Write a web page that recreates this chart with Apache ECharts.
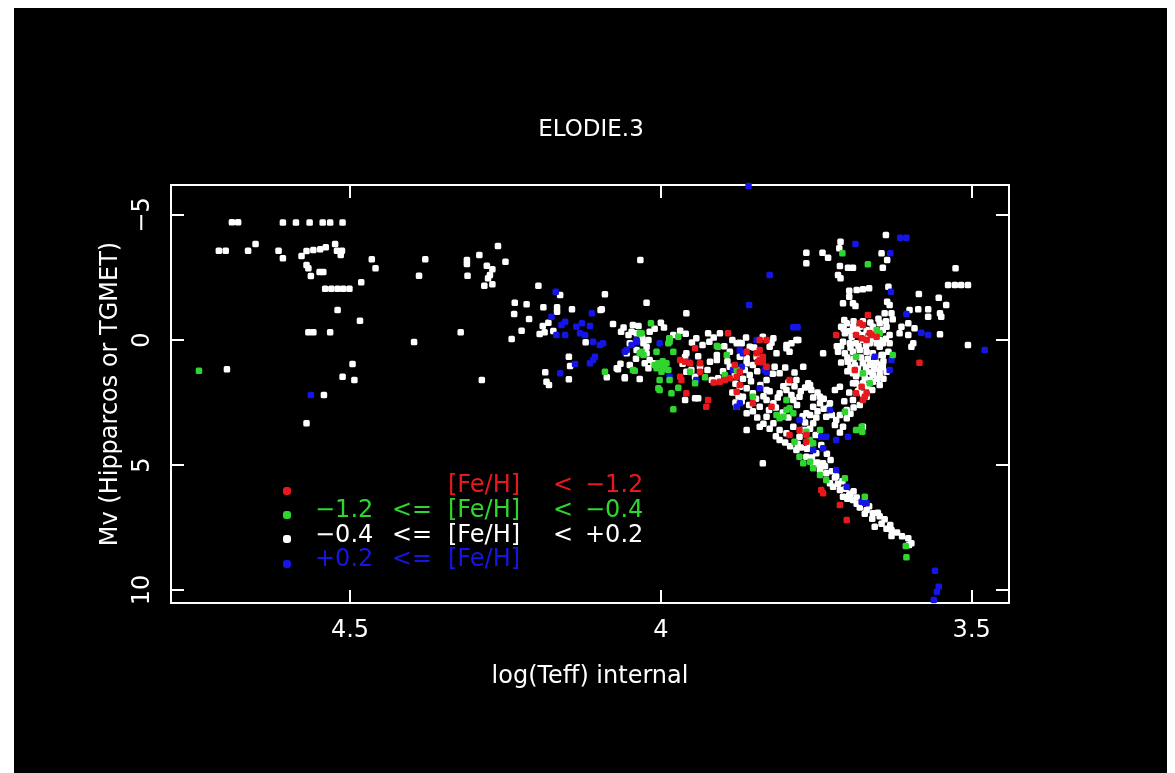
<!DOCTYPE html>
<html>
<head>
<meta charset="utf-8">
<title>ELODIE.3</title>
<script src="https://cdn.jsdelivr.net/npm/echarts@6/dist/echarts.min.js"></script>
<style>
  html, body { margin: 0; padding: 0; background: #ffffff; }
  #panel { position: absolute; left: 14px; top: 8px; width: 1153px; height: 765px; background: #000000; }
  #chart { position: absolute; left: 0; top: 0; width: 1175px; height: 773px; }
</style>
</head>
<body>
<div id="panel"></div>
<div id="chart"></div>
<script>
// [log(Teff), Mv] per star, grouped by metallicity bin
const metalPoor = [ // [Fe/H] < -1.2
  [3.892,-0.27],[3.830,0.00],[3.718,-0.20],[3.945,0.33],[3.969,0.80],[3.961,0.87],[3.953,0.93],[3.937,1.27],
  [3.967,1.60],[3.969,1.47],[3.959,2.13],[3.924,2.40],[3.927,2.67],[3.905,1.67],[3.897,1.60],[3.889,1.53],
  [3.915,1.70],[3.881,1.00],[3.873,1.27],[3.878,1.47],[3.846,0.53],[3.841,0.80],[3.836,0.87],[3.830,1.07],
  [3.862,0.47],[3.793,1.60],[3.852,2.53],[3.793,3.80],[3.766,3.80],[3.822,2.67],[3.739,6.13],[3.742,6.00],
  [3.712,6.60],[3.701,7.20],[3.777,3.60],[3.766,4.07],[3.669,2.13],[3.675,2.40],[3.686,-0.20],[3.677,-0.07],
  [3.664,-0.27],[3.667,-1.00],[3.675,-0.60],[3.661,-0.20],[3.653,-0.13],[3.669,0.00],[3.688,1.20],[3.677,1.87],
  [3.672,2.27],[3.686,2.13],[3.584,0.91],[3.937,0.93],[3.844,0.87],[3.836,0.67],[3.873,1.80],[3.878,2.07],
  [3.841,0.40],[3.680,-0.67],[3.841,0.00]
];
const metalMid = [ // -1.2 <= [Fe/H] < -0.4
  [4.743,1.23],[4.016,-0.67],[4.031,-0.27],[3.986,-0.07],[3.988,0.13],[3.972,-0.13],[4.034,0.53],[4.028,0.60],
  [4.007,0.47],[4.004,0.93],[3.996,1.07],[3.988,1.20],[3.999,1.27],[4.007,1.13],[3.991,0.93],[4.000,1.00],
  [3.994,1.15],[4.010,1.00],[3.997,0.85],[4.042,1.23],[4.090,1.27],[3.980,0.47],[3.986,1.60],[4.004,1.93],
  [4.002,1.60],[3.972,1.91],[3.983,2.13],[3.980,2.77],[3.910,0.24],[3.894,0.60],[3.929,1.49],[3.953,1.27],
  [3.945,1.73],[3.897,1.40],[3.852,2.27],[3.814,3.00],[3.803,3.07],[3.793,2.73],[3.787,2.93],[3.766,3.67],
  [3.760,4.00],[3.744,3.60],[3.777,4.67],[3.771,4.93],[3.755,5.13],[3.760,4.87],[3.734,5.60],[3.744,5.40],
  [3.704,5.53],[3.686,3.60],[3.677,3.47],[3.672,6.27],[3.755,4.13],[3.798,2.80],[3.809,3.13],[3.785,4.07],
  [3.676,3.67],[3.606,8.24],[3.605,8.69],[4.034,-0.27],[3.986,0.07],[4.002,2.00],[3.908,0.27],[3.878,1.20],
  [3.798,2.40],[3.686,0.67],[3.653,-0.40],[3.648,-0.27],[3.675,1.33],[3.664,1.73],[3.627,0.60],[3.704,2.87],
  [3.708,-3.47],[3.667,-3.03],[4.045,1.20],[4.031,0.47]
];
const metalSolar = [ // -0.4 <= [Fe/H] < +0.2
  // hot stars
  [4.698,1.17],[4.711,-3.57],[4.700,-3.57],[4.690,-4.71],[4.680,-4.71],[4.664,-3.57],[4.652,-3.84],[4.615,-3.57],
  [4.608,-3.27],[4.608,-4.70],[4.587,-4.70],[4.565,-4.70],[4.544,-4.70],[4.532,-4.70],[4.512,-4.70],[4.578,-3.36],
  [4.570,-3.56],[4.559,-3.60],[4.548,-3.63],[4.539,-3.71],[4.524,-3.84],[4.521,-3.57],[4.513,-3.57],[4.515,-3.40],
  [4.465,-3.23],[4.459,-2.87],[4.570,-3.00],[4.567,-2.87],[4.563,-2.56],[4.549,-2.72],[4.543,-2.72],[4.540,-2.05],
  [4.530,-2.05],[4.520,-2.05],[4.511,-2.05],[4.501,-2.05],[4.482,-2.31],[4.520,-1.20],[4.484,-0.77],[4.567,-0.31],
  [4.559,-0.31],[4.532,-0.31],[4.496,0.96],[4.512,1.47],[4.493,1.60],[4.542,2.20],[4.570,3.33],
  // B stars
  [4.379,-3.23],[4.389,-2.57],[4.397,0.08],[4.322,-0.31],[4.288,1.60],[4.262,-3.76],[4.292,-3.40],[4.312,-3.20],
  [4.312,-3.04],[4.311,-2.57],[4.280,-2.97],[4.271,-2.83],[4.275,-2.60],[4.278,-2.47],[4.250,-3.13],[4.284,-2.17],
  [4.271,-2.23],[4.197,-2.17],[4.235,-1.49],[4.216,-1.43],[4.189,-1.31],[4.167,-1.31],[4.167,-1.13],[4.236,-1.04],
  [4.212,-0.84],[4.224,-0.37],[4.240,-0.04],[4.190,-0.56],[4.181,-0.69],[4.195,-0.24],[4.187,-0.31],[4.162,-1.80],
  [4.143,-1.23],[4.173,-0.36],[4.121,0.09],[4.148,0.67],[4.146,1.04],[4.186,1.29],[4.184,1.67],[4.148,1.57],
  [4.180,1.80],[4.097,-1.20],[4.090,-1.83],[4.033,-3.20],[4.023,-1.49],[4.095,-1.23],[3.959,-1.07],
  // A stars
  [4.077,-0.64],[4.064,-0.33],[4.045,-0.60],[4.036,-0.56],[4.047,-0.33],[4.039,-0.27],[4.018,-0.33],[4.020,0.00],
  [4.023,0.27],[4.000,-0.69],[3.969,-0.37],[3.986,-0.07],[3.943,-0.07],[3.924,-0.27],[3.922,0.07],[3.905,-0.27],
  [3.874,0.11],[3.836,-0.13],[3.819,-0.07],[3.822,0.11],[3.798,0.20],[3.790,0.13],[3.779,0.00],[3.959,0.53],
  [3.961,0.67],[4.055,0.53],[3.910,0.80],[3.921,0.87],[3.937,1.07],[4.020,1.13],[4.071,1.13],[4.058,1.49],
  [4.034,1.56],[4.087,1.49],[3.951,1.20],[3.945,1.47],[3.959,1.27],[3.889,1.07],[3.881,1.40],[3.918,1.60],
  [3.908,1.53],[3.940,2.33],[3.945,2.33],[3.961,2.40],[4.069,1.17],[4.058,1.53],[4.050,0.13],[4.039,0.40],
  [4.028,0.13],[4.023,0.53],[4.018,0.80],[4.012,0.93],[4.026,0.93],[3.910,0.60],[3.889,0.47],[3.878,0.13],
  [3.873,0.67],[3.862,0.93],[3.846,0.67],[3.870,0.13],[3.857,0.27],[3.862,0.73],[3.852,1.00],[3.825,0.27],
  [3.814,0.53],[3.817,1.07],[3.857,1.40],[3.793,0.47],[3.771,1.07],[3.739,0.53],[3.782,0.00],[3.798,0.33],
  [4.060,-0.50],[4.052,-0.20],[4.030,-0.10],[4.010,-0.45],[3.995,-0.50],[3.980,-0.20],[3.960,-0.25],[3.950,0.10],
  [3.933,0.20],[3.915,-0.10],[3.898,0.25],[3.885,0.00],[3.863,-0.10],[3.850,0.30],[4.040,0.75],[4.050,1.00],
  [4.065,0.95],[3.965,0.95],[3.940,0.65],[3.925,1.20],[3.900,1.25],[3.893,0.85],[3.865,1.20],[3.845,1.25],
  [3.830,1.60],[3.820,1.35],[3.800,1.10],[3.785,1.30],
  // turn-off and main sequence
  [3.878,2.67],[3.868,2.27],[3.862,2.93],[3.852,2.13],[3.841,2.67],[3.830,2.00],[3.819,2.53],[3.809,2.13],
  [3.798,2.00],[3.787,2.40],[3.777,2.27],[3.830,3.07],[3.819,3.33],[3.809,3.60],[3.798,3.73],[3.787,3.47],
  [3.777,3.87],[3.766,3.60],[3.755,3.33],[3.766,2.93],[3.755,2.67],[3.744,2.53],[3.841,3.47],[3.809,4.00],
  [3.782,4.40],[3.766,4.67],[3.755,4.93],[3.744,5.20],[3.734,5.33],[3.728,5.73],[3.723,5.87],[3.712,6.00],
  [3.707,6.27],[3.691,6.40],[3.739,4.93],[3.750,4.53],[3.760,4.13],[3.862,1.93],[3.873,1.87],[3.862,3.60],
  [3.809,1.33],[3.782,1.60],[3.760,1.80],[3.718,3.20],[3.734,3.07],[3.707,3.47],[3.763,1.73],[3.744,2.27],
  [3.728,2.53],[3.758,2.00],[3.720,2.00],[3.836,4.93],[3.775,4.30],[3.745,5.00],[3.720,5.50],[3.715,5.75],
  [3.695,6.15],[3.700,6.35],[3.685,6.55],[3.680,6.70],[3.675,3.47],[3.669,6.80],[3.659,6.93],[3.651,6.91],
  [3.640,7.17],[3.631,7.40],[3.629,7.60],[3.656,7.47],[3.629,7.84],[3.602,7.93],[3.597,8.13],[3.601,8.20],
  [3.870,2.45],[3.858,2.60],[3.847,2.35],[3.835,2.25],[3.826,2.80],[3.815,2.70],[3.804,2.90],[3.795,3.10],
  [3.790,2.20],[3.781,2.60],[3.772,3.05],[3.768,3.30],[3.760,3.00],[3.750,3.10],[3.748,2.85],[3.738,2.75],
  [3.830,2.40],[3.852,2.85],[3.845,3.10],[3.835,3.35],[3.825,3.55],[3.815,3.85],[3.800,4.10],[3.792,4.25],
  [3.780,4.15],[3.772,3.60],[3.760,3.55],[3.751,3.80],[3.742,4.20],[3.733,4.55],[3.727,4.80],[3.765,4.35],
  [3.757,4.70],[3.748,4.90],[3.736,5.05],[3.725,5.25],[3.718,5.45],[3.708,5.65],[3.703,5.95],[3.697,6.20],
  [3.690,6.05],[3.685,6.30],[3.812,2.30],[3.825,2.05],[3.840,1.80],[3.855,1.65],[3.868,1.55],[3.880,1.75],
  [3.885,2.10],[3.875,2.25],[3.880,2.50],[3.803,1.85],[3.795,1.70],[3.785,1.85],[3.775,2.05],[3.768,1.90],
  [3.755,2.30],[3.748,2.10],[3.738,2.35],[3.730,2.70],[3.725,3.00],[3.720,3.40],[3.712,3.70],
  [3.665,6.65],[3.672,6.95],[3.660,7.15],[3.648,7.05],[3.645,7.35],[3.637,7.55],[3.620,7.70],[3.612,7.85],
  // giants
  [3.638,-4.20],[3.711,-3.93],[3.713,-3.67],[3.766,-3.49],[3.740,-3.49],[3.731,-3.29],[3.766,-3.07],[3.712,-2.96],
  [3.699,-2.89],[3.691,-2.89],[3.643,-2.89],[3.636,-3.20],[3.645,-3.47],[3.526,-2.87],[3.538,-2.20],[3.527,-2.20],
  [3.517,-2.20],[3.506,-2.20],[3.715,-2.60],[3.711,-2.47],[3.697,-1.97],[3.685,-2.00],[3.675,-2.03],[3.665,-2.07],
  [3.634,-2.13],[3.585,-1.84],[3.553,-1.69],[3.541,-1.40],[3.551,-1.07],[3.549,-0.93],[3.707,-1.47],[3.691,-1.47],
  [3.687,-1.36],[3.697,-1.73],[3.632,-1.40],[3.629,-1.07],[3.627,-0.83],[3.600,-1.20],[3.586,-1.23],[3.570,-1.23],
  [3.570,-0.93],[3.551,-0.23],[3.506,0.20],[3.636,-1.53],[3.640,-1.07],
  // clump
  [3.701,-0.67],[3.691,-0.53],[3.680,-0.53],[3.704,-0.27],[3.693,-0.13],[3.683,-0.27],[3.669,-0.40],[3.659,-0.53],
  [3.648,-0.67],[3.637,-0.53],[3.632,-0.20],[3.643,0.13],[3.653,0.13],[3.664,0.13],[3.675,0.00],[3.686,0.13],
  [3.696,0.13],[3.707,0.07],[3.715,0.47],[3.704,0.53],[3.691,0.47],[3.680,0.40],[3.669,0.47],[3.659,0.53],
  [3.645,0.60],[3.634,0.47],[3.699,0.87],[3.688,1.00],[3.675,0.93],[3.664,1.00],[3.653,0.93],[3.643,1.07],
  [3.691,1.33],[3.680,1.33],[3.669,1.27],[3.659,1.40],[3.648,1.40],[3.637,1.27],[3.675,1.73],[3.664,1.60],
  [3.686,1.73],[3.648,1.80],[3.710,-0.53],[3.648,0.27],[3.659,0.93],[3.648,1.20],[3.691,1.73],[3.680,1.87],
  [3.669,2.27],[3.691,2.40],[3.680,2.60],[3.701,2.80],[3.701,3.13],[3.712,3.00],[3.632,0.13],[3.643,0.60],
  [3.659,1.67],[3.613,-0.53],[3.602,-0.67],[3.592,-0.47],[3.616,-0.27],[3.602,-0.20],[3.594,0.13],[3.597,0.27],
  [3.717,0.25],[3.712,1.87],
  [3.706,-0.45],[3.697,-0.35],[3.688,-0.40],[3.676,-0.20],[3.665,-0.10],[3.655,-0.35],[3.643,-0.40],[3.638,-0.05],
  [3.648,0.00],[3.660,-0.05],[3.670,0.25],[3.682,0.25],[3.695,0.30],[3.710,0.25],[3.700,0.70],[3.690,0.75],
  [3.678,0.70],[3.667,0.75],[3.655,0.75],[3.642,0.85],[3.710,0.90],[3.695,1.10],[3.683,1.15],[3.670,1.10],
  [3.657,1.15],[3.646,1.00],[3.700,1.25],[3.686,1.45],[3.672,1.50],[3.660,1.30],[3.652,1.55],[3.642,1.55],
  [3.668,1.85],[3.683,2.05],[3.660,2.00],[3.675,2.15],[3.697,2.10],[3.705,2.45],[3.690,2.70],[3.695,2.95],
  [3.705,-0.80],[3.690,-0.75],[3.675,-0.75],[3.663,-0.70],[3.650,-0.85],[3.638,-0.75]
];
const metalRich = [ // [Fe/H] >= +0.2
  [4.563,2.20],[4.176,-0.93],[4.160,-0.60],[4.154,-0.73],[4.168,-0.20],[4.154,-0.20],[4.136,-0.53],[4.127,-0.67],
  [4.114,-0.56],[4.130,-0.27],[4.122,-0.20],[4.111,-1.07],[4.109,0.07],[4.098,0.20],[4.109,0.80],[4.114,0.93],
  [4.162,1.33],[4.138,0.96],[4.169,-1.93],[4.055,0.40],[3.859,-6.16],[3.615,-4.09],[3.605,-4.09],[3.687,-3.84],
  [3.631,-3.47],[3.825,-2.60],[3.630,-1.93],[3.858,-1.40],[3.605,-1.04],[3.479,0.40],[3.581,-0.29],[3.570,-0.20],
  [3.787,-0.51],[3.780,-0.51],[4.106,0.67],[4.093,0.13],[4.058,0.47],[4.039,0.07],[4.002,0.13],[3.986,1.47],
  [3.956,0.87],[3.943,1.60],[3.884,1.20],[3.870,1.07],[3.873,0.40],[3.868,0.53],[3.846,0.00],[3.836,0.93],
  [3.830,1.27],[3.841,1.93],[3.878,2.67],[3.728,2.80],[3.734,3.87],[3.718,4.00],[3.742,3.87],[3.739,4.33],
  [3.718,5.20],[3.701,5.87],[3.677,6.47],[3.669,6.53],[3.755,4.40],[3.777,3.20],[3.699,3.87],[4.039,0.00],
  [4.047,0.20],[3.833,1.20],[3.873,2.53],[3.632,1.20],[3.629,0.80],[3.656,0.67],[3.672,6.51],[3.559,9.23],
  [3.553,9.87],[3.556,10.07],[3.561,10.40]
];

const xTicks = [4.5, 4, 3.5];
const yTicks = [-5, 0, 5, 10];
const titleText = 'ELODIE.3';
const xName = 'log(Teff) internal';
const yName = 'Mv (Hipparcos or TGMET)';
// legend rows: tokens for the five text columns ('' = empty column)
const legendRows = [
  ['', '', '[Fe/H]', '<', '\u22121.2'],
  ['\u22121.2', '<=', '[Fe/H]', '<', '\u22120.4'],
  ['\u22120.4', '<=', '[Fe/H]', '<', '+0.2'],
  ['+0.2', '<=', '[Fe/H]', '', '']
];

const COLORS = ['#e8191c', '#2fd62f', '#ffffff', '#1515e6'];
const FONT = 'DejaVu Sans';

function fmtNum(v) {
  return v < 0 ? '\u2212' + String(-v) : String(v);
}

const chart = echarts.init(document.getElementById('chart'), null, { renderer: 'canvas' });

const frameLine = { show: true, onZero: false, lineStyle: { color: '#ffffff', width: 2 } };
const tickIn = (vals) => ({ show: true, inside: true, length: 13, customValues: vals, lineStyle: { color: '#ffffff', width: 2 } });

const xCommon = { type: 'value', min: 3.44, max: 4.788, inverse: true, splitLine: { show: false }, axisLine: frameLine };
const yCommon = { type: 'value', min: -6.2, max: 10.52, inverse: true, splitLine: { show: false }, axisLine: frameLine };

// legend graphics
const colX = [315, 392, 448, 553, 585];
const rowY = [486, 511, 536, 560];
const dotY = [491, 515, 539, 564];
const legendGraphics = [];
legendRows.forEach((row, r) => {
  legendGraphics.push({
    type: 'rect', shape: { x: 283, y: dotY[r] - 4, width: 8, height: 8, r: 3 },
    style: { fill: COLORS[r] }, silent: true
  });
  row.forEach((tok, c) => {
    if (!tok) return;
    legendGraphics.push({
      type: 'text', x: colX[c], y: rowY[r], silent: true,
      style: { text: tok, fill: COLORS[r], font: '24px "' + FONT + '"', textAlign: 'left', textVerticalAlign: 'middle' }
    });
  });
});

const makeSeries = (name, data, color) => ({
  name, type: 'scatter', data, xAxisIndex: 0, yAxisIndex: 0,
  symbol: 'roundRect', symbolSize: 6.5, silent: true,
  itemStyle: { color, opacity: 1 }
});

chart.setOption({
  backgroundColor: 'transparent',
  animation: false,
  textStyle: { fontFamily: FONT },
  grid: { left: 171, top: 185, right: 166, bottom: 170, containLabel: false },
  xAxis: [
    Object.assign({}, xCommon, {
      position: 'bottom',
      axisTick: tickIn(xTicks),
      axisLabel: { show: true, customValues: xTicks, color: '#ffffff', fontSize: 24, fontFamily: FONT, margin: 16, formatter: fmtNum },
      name: xName, nameLocation: 'middle', nameGap: 62,
      nameTextStyle: { color: '#ffffff', fontSize: 24, fontFamily: FONT }
    }),
    Object.assign({}, xCommon, {
      position: 'top',
      axisTick: tickIn(xTicks),
      axisLabel: { show: false }
    })
  ],
  yAxis: [
    Object.assign({}, yCommon, {
      position: 'left',
      axisTick: tickIn(yTicks),
      axisLabel: { show: true, customValues: yTicks, color: '#ffffff', fontSize: 24, fontFamily: FONT, margin: 16, rotate: 90, formatter: fmtNum },
      name: yName, nameLocation: 'middle', nameGap: 48, nameRotate: 90,
      nameTextStyle: { color: '#ffffff', fontSize: 24, fontFamily: FONT }
    }),
    Object.assign({}, yCommon, {
      position: 'right',
      axisTick: tickIn(yTicks),
      axisLabel: { show: false }
    })
  ],
  graphic: [
    {
      type: 'text', x: 591, y: 130, silent: true,
      style: { text: titleText, fill: '#ffffff', font: '23px "' + FONT + '"', textAlign: 'center', textVerticalAlign: 'middle' }
    }
  ].concat(legendGraphics),
  series: [
    makeSeries('-0.4 <= [Fe/H] < +0.2', metalSolar, COLORS[2]),
    makeSeries('+0.2 <= [Fe/H]', metalRich, COLORS[3]),
    makeSeries('-1.2 <= [Fe/H] < -0.4', metalMid, COLORS[1]),
    makeSeries('[Fe/H] < -1.2', metalPoor, COLORS[0])
  ]
});
</script>
</body>
</html>
